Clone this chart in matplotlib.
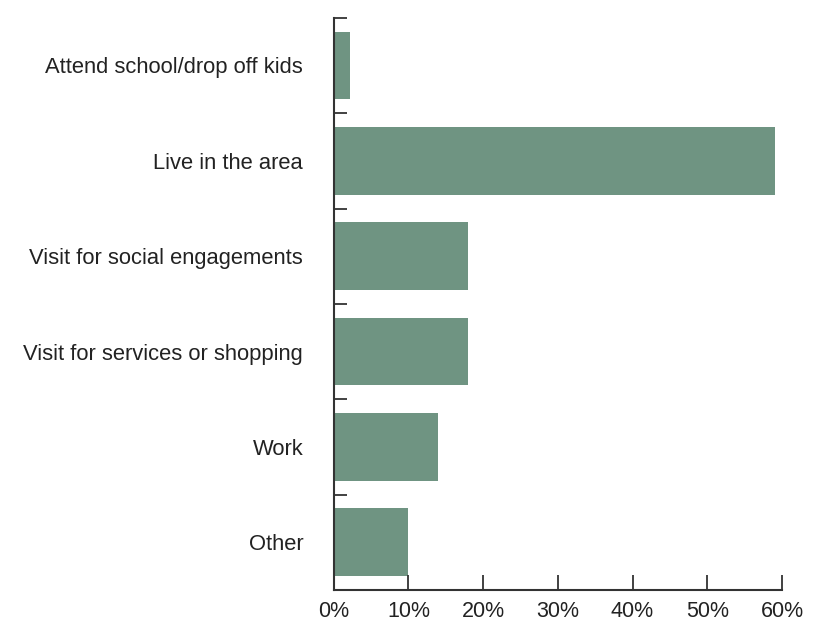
import matplotlib
matplotlib.use("Agg")
import matplotlib.pyplot as plt
import numpy as np

categories = [
    "Attend school/drop off kids",
    "Live in the area",
    "Visit for social engagements",
    "Visit for services or shopping",
    "Work",
    "Other",
]
values = [2.2, 59.0, 18.0, 18.0, 14.0, 10.0]
xticks = [0, 10, 20, 30, 40, 50, 60]
xtick_labels = ["0%", "10%", "20%", "30%", "40%", "50%", "60%"]

plt.rcParams["font.family"] = ["Liberation Sans", "DejaVu Sans"]

fig = plt.figure(figsize=(8.24, 6.22), dpi=100)
ax = fig.add_axes([0.405, 0.0514, 0.544, 0.92])

y = np.arange(len(categories))
ax.barh(y, values, height=0.71, color="#6f9482")

ax.set_ylim(len(categories) - 0.5, -0.5)
ax.set_xlim(0, 60)

ax.set_yticks(y)
ax.set_yticklabels(categories, fontsize=15.8, color="#222222")
ax.set_yticks(np.arange(-0.5, len(categories), 1), minor=True)
ax.tick_params(axis="y", which="major", length=0, pad=22)
ax.tick_params(axis="y", which="minor", direction="in", length=9, width=1.3, color="#333333")

ax.set_xticks(xticks)
ax.set_xticklabels(xtick_labels, fontsize=15.5, color="#222222")
ax.tick_params(axis="x", direction="in", length=11, width=1.3, color="#333333", pad=8)

for side in ["top", "right"]:
    ax.spines[side].set_visible(False)
for side in ["left", "bottom"]:
    ax.spines[side].set_linewidth(1.5)
    ax.spines[side].set_color("#333333")

fig.savefig("out.png", dpi=100)
plt.close(fig)
